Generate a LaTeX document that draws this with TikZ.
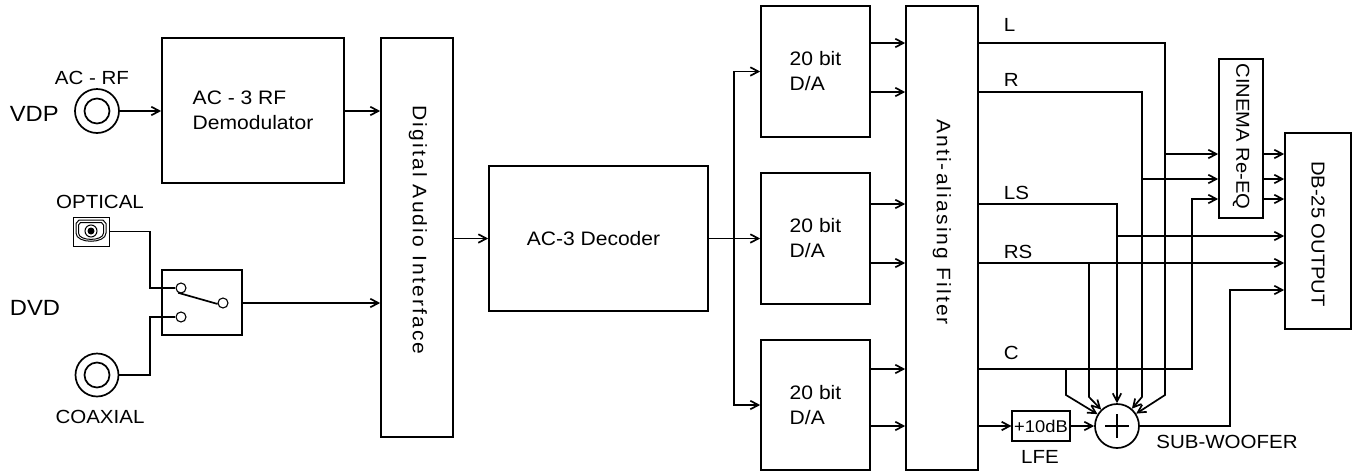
\documentclass[tikz,border=0pt]{standalone}
\usepackage{fontspec}
\setmainfont{Liberation Sans}[FakeStretch=1.08]
\usetikzlibrary{arrows.meta,calc}
\newcommand{\mainfs}{\fontsize{19.5}{25}\selectfont}
\newcommand{\rotfs}{\fontsize{18.7}{22}\selectfont}
\newcommand{\labfs}{\fontsize{19}{22}\selectfont}
\newcommand{\bigfs}{\fontsize{22}{26}\selectfont}
\begin{document}
\begin{tikzpicture}[x=1pt,y=-1pt,
  line width=1.7pt,
  box/.style={draw,inner sep=0pt,font=\mainfs},
  arr/.style={-{Straight Barb[length=8pt,width=8.5pt]}},
  term/.style={draw,circle,inner sep=0pt,minimum size=10pt,line width=1.1pt},
  lab/.style={font=\labfs,inner sep=0pt},
  spaced/.style={font=\mainfs\addfontfeature{LetterSpace=11}}
]
\useasboundingbox (0,0) rectangle (1358,472);

% ---------- sources ----------
\node[font=\bigfs,anchor=west,inner sep=0pt] (vdp) at (9,114) {VDP};
\node[lab] (acrf) at (92,78) {AC - RF};
\node[draw,circle,minimum size=44pt,inner sep=0pt] (rf) at (97,111) {};
\draw (rf.center) circle (12.5);

\node[lab] (optl) at (100,202) {OPTICAL};
\node[draw,inner sep=0pt,minimum width=36pt,minimum height=29pt,line width=1pt] (opt) at (91,231.5) {};
\draw[line width=1pt] (79,220) -- (103,220) -- (106,223.5) -- (106,233)
   .. controls (106,244) and (76,244) .. (76,233) -- (76,223.5) -- cycle;
\draw[line width=1pt] (80.5,222.5) -- (101.5,222.5) -- (103.5,225) -- (103.5,233)
   .. controls (103.5,241.5) and (78.5,241.5) .. (78.5,233) -- (78.5,225) -- cycle;
\draw[line width=1pt] (91,231) circle (6);
\fill (91,231) circle (3.5);

\node[font=\bigfs,anchor=west,inner sep=0pt] (dvd) at (9,308) {DVD};
\node[draw,circle,minimum size=43pt,inner sep=0pt] (coax) at (97,375) {};
\draw (coax.center) circle (12.5);
\node[lab] (coaxl) at (100,417) {COAXIAL};

% switch
\node[box,minimum width=80pt,minimum height=65pt] (sw) at (202,302.5) {};
\node[term] (t1) at (181,288) {};
\node[term] (t2) at (181,317) {};
\node[term] (t3) at (223,303) {};
\draw (t1.-120) -- (t3.-170);
\draw (opt.east) -| (150,288) -- (t1.west);
\draw (coax.east) -| (150,317) -- (t2.west);

% ---------- main chain ----------
\node[box,minimum width=182pt,minimum height=145pt,align=left] (demod) at (253,110.5) {AC - 3 RF\\Demodulator};
\node[box,minimum width=72pt,minimum height=399pt] (dai) at (417,237.5) {};
\node[spaced,rotate=-90] at (418,230) {Digital Audio Interface};
\node[box,minimum width=219pt,minimum height=145pt] (dec) at (598.5,238.5) {\hspace*{-10pt}AC-3 Decoder};

\draw[arr] (rf.east) -- (rf.east -| demod.west);
\draw[arr] (demod.east |- rf) -- (dai.west |- rf);
\draw[arr] (sw.east |- t3) -- (dai.west |- t3);
\draw[arr] (dai.east |- dec) -- (dec.west);

% D/A converters
\node[box,minimum width=109pt,minimum height=131pt,align=left] (da1) at (815.5,71.5) {20 bit\\D/A};
\node[box,minimum width=109pt,minimum height=131pt,align=left] (da2) at (815.5,238.5) {20 bit\\D/A};
\node[box,minimum width=109pt,minimum height=130pt,align=left] (da3) at (815.5,405) {20 bit\\D/A};

\coordinate (bus) at (734,238.5);
\draw (dec.east) -- (bus);
\draw[arr] (bus) |- (da1.west);
\draw[arr] (bus) -- (da2.west);
\draw[arr] (bus) |- (da3.west);

% anti-aliasing filter
\node[box,minimum width=72pt,minimum height=464pt] (aaf) at (942,238) {};
\node[spaced,rotate=-90] at (942,222) {Anti-aliasing Filter};

\foreach \yy/\src in {43/da1,92/da1,204/da2,263/da2,369/da3,426/da3}
  \draw[arr] (\src.east |- 0,\yy) -- (aaf.west |- 0,\yy);

% channel labels
\node[lab,anchor=west] at (1003,25) {L};
\node[lab,anchor=west] at (1003,80) {R};
\node[lab,anchor=west] at (1003,193) {LS};
\node[lab,anchor=west] at (1003,252) {RS};
\node[lab,anchor=west] at (1003,353) {C};

% LFE gain and summer
\node[draw,inner sep=0pt,minimum width=58pt,minimum height=30pt,line width=1.1pt,font=\fontsize{17}{20}\selectfont] (gain) at (1041,426) {+10dB};
\node[lab] at (1040,457) {LFE};
\node[draw,circle,minimum size=44pt,inner sep=0pt] (sum) at (1117,426) {};
\draw ($(sum.center)+(-12,0)$) -- ($(sum.center)+(12,0)$);
\draw ($(sum.center)+(0,-12)$) -- ($(sum.center)+(0,12)$);
\node[lab] at (1227,442) {SUB-WOOFER};

\draw[arr] (aaf.east |- gain) -- (gain.west);
\draw[arr] (gain.east) -- (sum.west);

% re-EQ and output
\node[box,minimum width=44pt,minimum height=159pt] (eq) at (1241,138.5) {};
\node[font=\rotfs,rotate=-90] at (1241,136.5) {CINEMA Re-EQ};
\node[box,minimum width=66pt,minimum height=196pt] (db) at (1318,231) {};
\node[font=\rotfs,rotate=-90] at (1318,234) {DB-25 OUTPUT};

% L
\draw[arr] (aaf.east |- 0,43) -| (1165,395) -- (sum);
\draw[arr] (1165,154) -- (eq.west |- 0,154);
% R
\draw[arr] (aaf.east |- 0,92) -| (1142,397) -- (sum);
\draw[arr] (1142,179) -- (eq.west |- 0,179);
% LS
\draw[arr] (aaf.east |- 0,204) -| (sum.north);
\draw[arr] (1117,236) -- (db.west |- 0,236);
% RS
\draw[arr] (aaf.east |- 0,263) -- (db.west |- 0,263);
\draw[arr] (1089,263) -- (1089,397) -- (sum);
% C
\draw[arr] (aaf.east |- 0,369) -| (1192,199) -- (eq.west |- 0,199);
\draw[arr] (1066,369) -- (1066,395) -- (sum);
% EQ to output
\foreach \yy in {154,179,199}
  \draw[arr] (eq.east |- 0,\yy) -- (db.west |- 0,\yy);
% subwoofer to output
\draw[arr] (sum.east) -| (1230,290) -- (db.west |- 0,290);
\end{tikzpicture}
\end{document}
